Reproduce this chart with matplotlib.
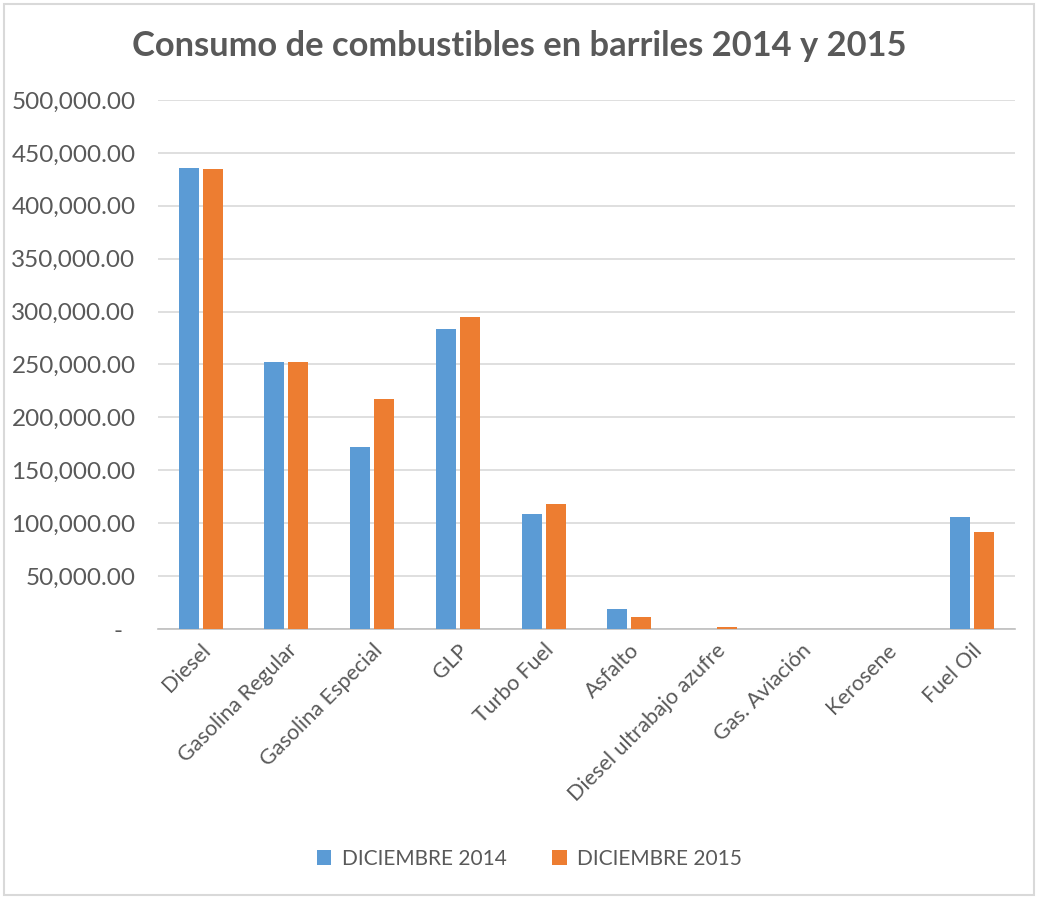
import numpy as np
import matplotlib.pyplot as plt
from matplotlib.ticker import FuncFormatter, MultipleLocator
from matplotlib.patches import Rectangle

categories = ["Diesel", "Gasolina Regular", "Gasolina Especial", "GLP", "Turbo Fuel",
              "Asfalto", "Diesel ultrabajo azufre", "Gas. Aviación", "Kerosene", "Fuel Oil"]
dic_2014 = [435700, 252400, 172000, 283500, 108700, 18900, 0, 0, 0, 106300]
dic_2015 = [434500, 252400, 217700, 295000, 118000, 11700, 2000, 0, 0, 91800]
series_names = ["DICIEMBRE 2014", "DICIEMBRE 2015"]

plt.rcParams['font.family'] = ['Lato', 'DejaVu Sans']
txt = '#595959'

fig = plt.figure(figsize=(10.38, 8.99), dpi=100)
ax = fig.add_axes([0.152, 0.3003, 0.826, 0.5885])

x = np.arange(len(categories))
w = 0.235
off = 0.14
ax.bar(x - off, dic_2014, w, color='#5B9BD5', label=series_names[0], zorder=3)
ax.bar(x + off, dic_2015, w, color='#ED7D31', label=series_names[1], zorder=3)

ax.set_xlim(-0.5, len(categories) - 0.5)
ax.set_ylim(0, 500000)
ax.yaxis.set_major_locator(MultipleLocator(50000))
ax.yaxis.set_major_formatter(FuncFormatter(lambda v, p: '-  ' if v == 0 else f'{v:,.2f}'))
ax.grid(axis='y', color='#d9d9d9', linewidth=1.2, zorder=0)
for s in ['top', 'right', 'left']:
    ax.spines[s].set_visible(False)
ax.spines['bottom'].set_color('#bfbfbf')
ax.spines['bottom'].set_linewidth(1.2)
ax.tick_params(axis='both', length=0, colors=txt)
ax.tick_params(axis='y', labelsize=17.5, pad=16)
ax.set_xticks(x)
ax.set_xticklabels(categories, rotation=45, ha='right', rotation_mode='anchor', fontsize=15.5, color=txt)
ax.tick_params(axis='x', pad=8)

fig.text(0.5, 0.949, "Consumo de combustibles en barriles 2014 y 2015", ha='center', va='center',
         fontsize=24.8, fontweight='bold', color=txt)

leg = fig.legend(loc='center', bbox_to_anchor=(0.51, 0.045), ncol=2, frameon=False,
                 fontsize=15, handlelength=0.7, handleheight=0.7, columnspacing=2.2,
                 handletextpad=0.5)
for t in leg.get_texts():
    t.set_color(txt)

fig.patches.append(Rectangle((0.004, 0.004), 0.992, 0.992, transform=fig.transFigure,
                             fill=False, edgecolor='#d9d9d9', linewidth=1.5))

fig.savefig('out.png', dpi=100)
